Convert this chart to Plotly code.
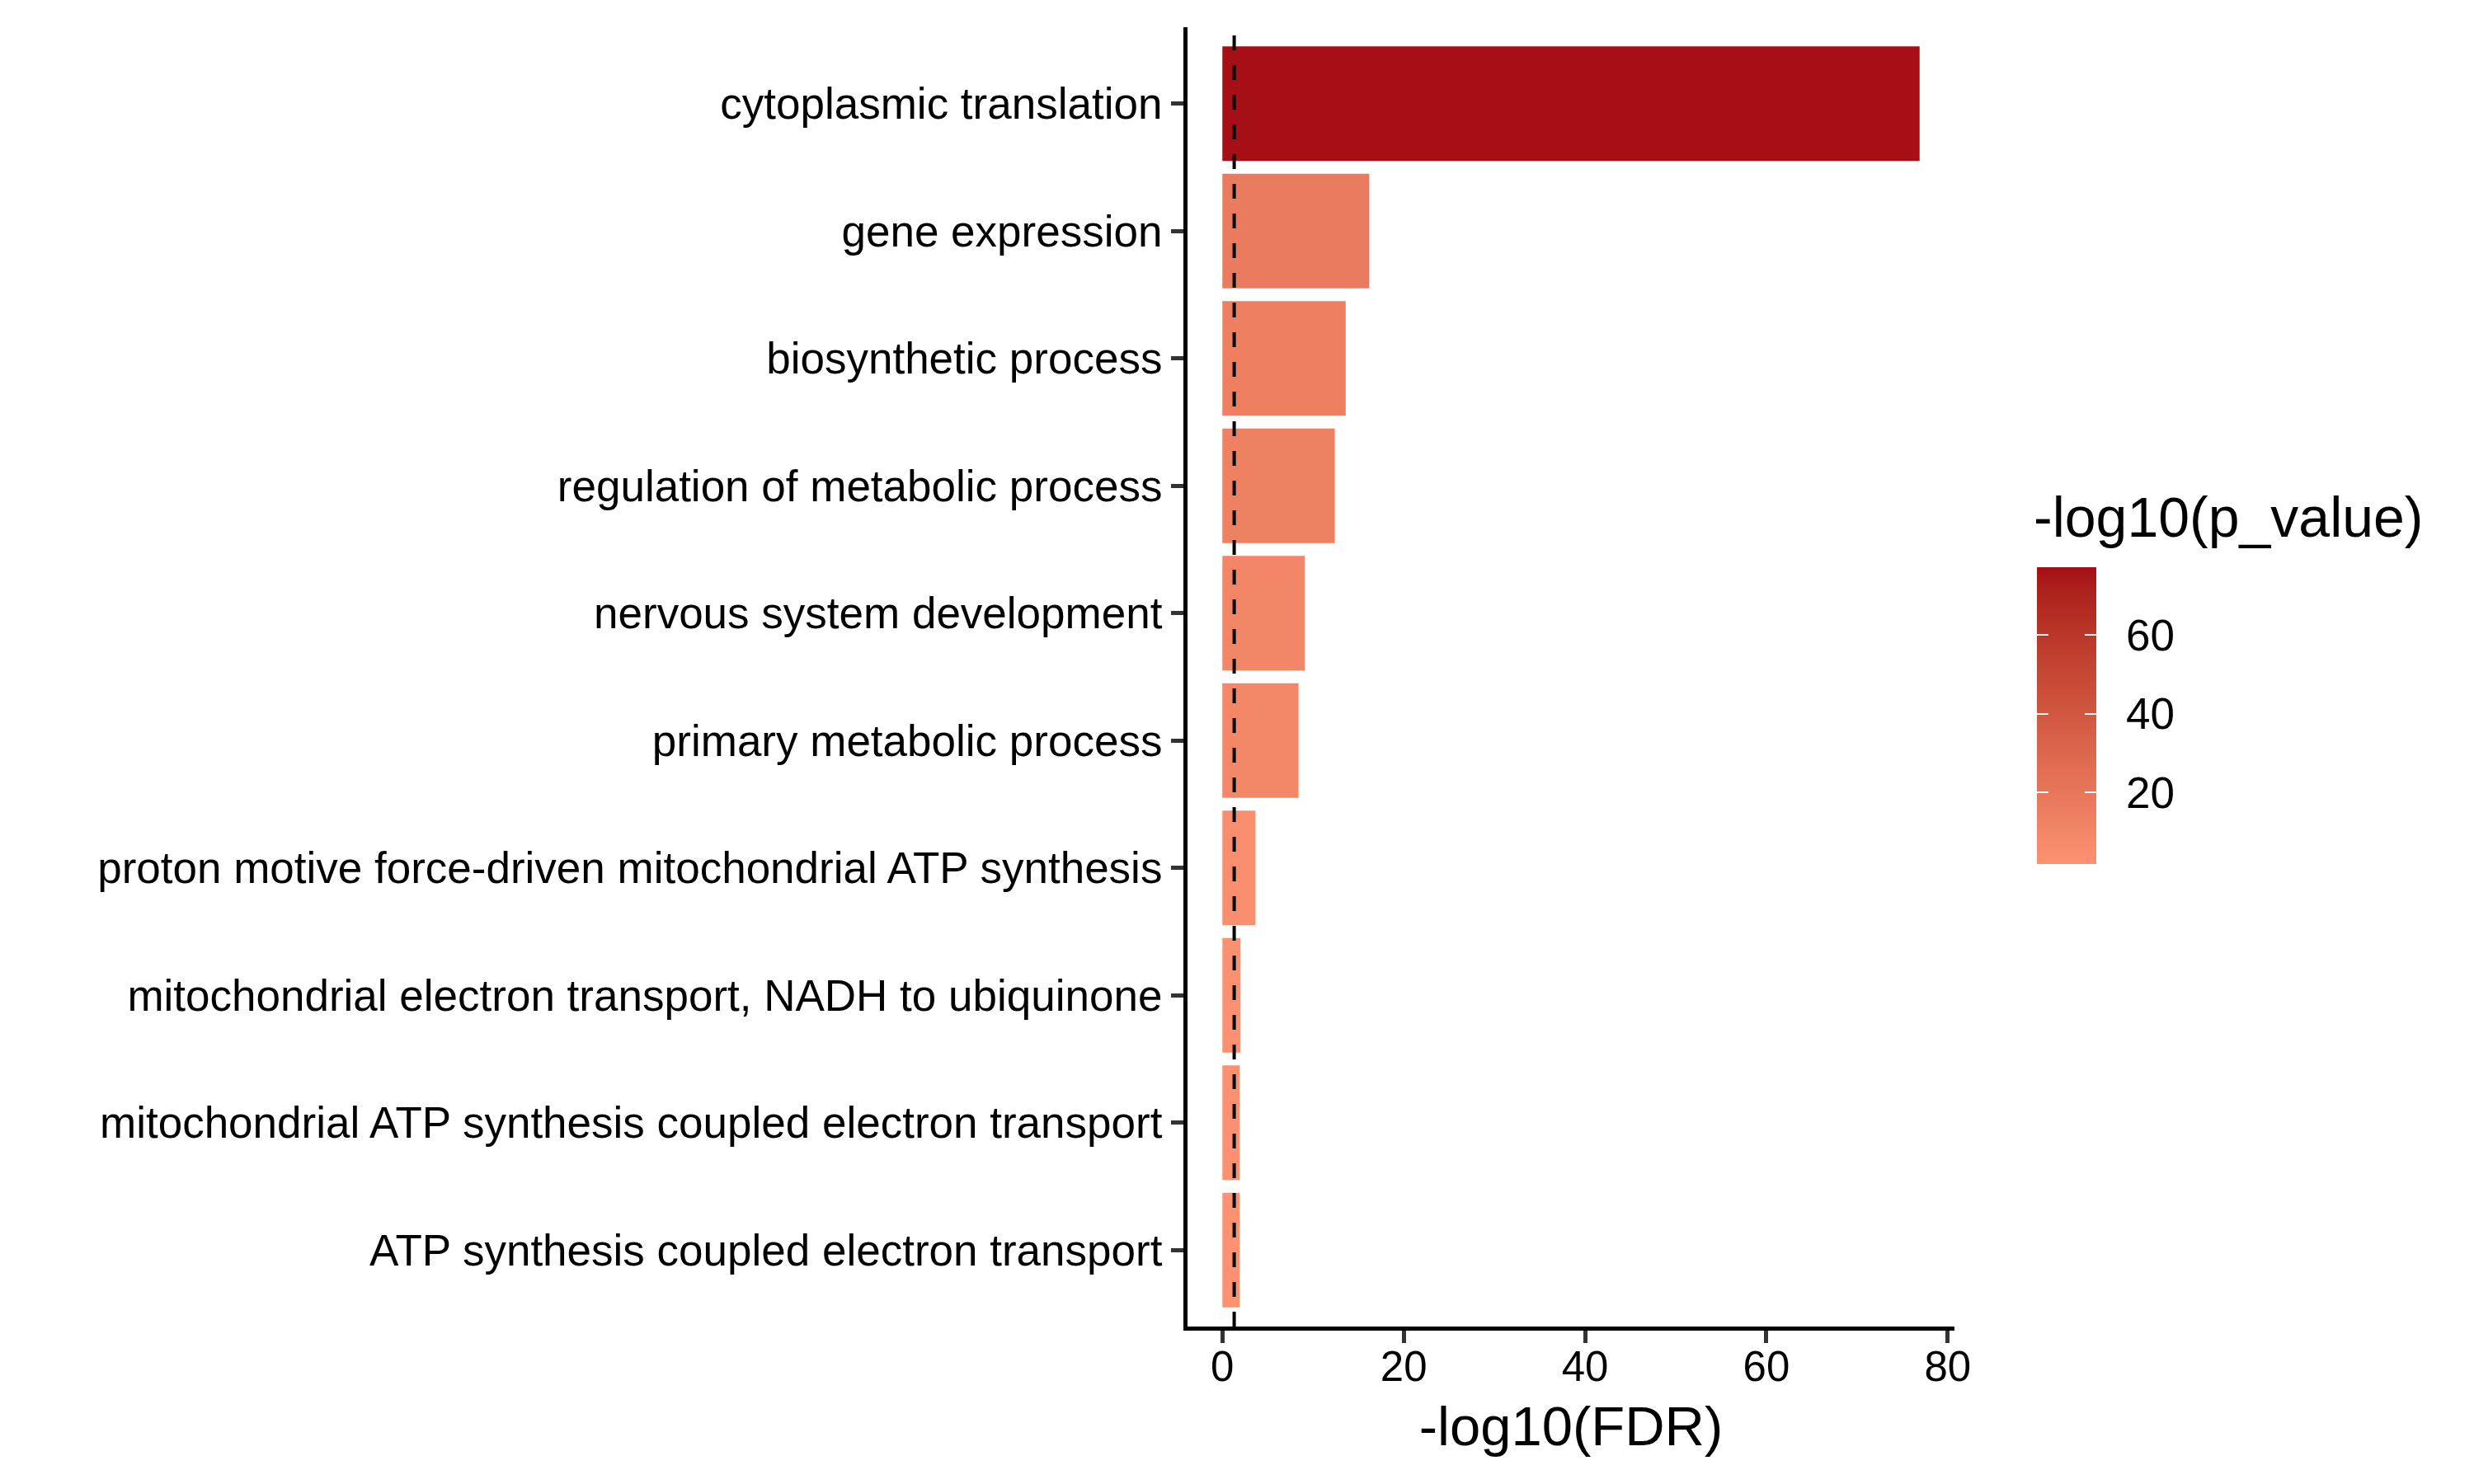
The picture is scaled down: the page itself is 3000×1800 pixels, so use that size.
import math
import plotly.graph_objects as go

# ---------------- data ----------------
terms = [
    "cytoplasmic translation",
    "gene expression",
    "biosynthetic process",
    "regulation of metabolic process",
    "nervous system development",
    "primary metabolic process",
    "proton motive force-driven mitochondrial ATP synthesis",
    "mitochondrial electron transport, NADH to ubiquinone",
    "mitochondrial ATP synthesis coupled electron transport",
    "ATP synthesis coupled electron transport",
]
neg_log10_fdr = [76.9, 16.2, 13.6, 12.4, 9.1, 8.4, 3.65, 2.0, 1.91, 1.91]
neg_log10_p = [77.2, 17.0, 14.4, 13.2, 9.9, 9.2, 4.4, 2.7, 2.5, 1.85]
fdr_threshold = 0.05
x_ticks = [0, 20, 40, 60, 80]
cb_ticks = [20, 40, 60]

LOW = "#FC9272"
HIGH = "#A50F15"
FONT = "Liberation Sans, Arial, sans-serif"


# ---------- Lab-space gradient (like ggplot2 scale_fill_gradient) ----------
def _hex_to_rgb(h):
    h = h.lstrip("#")
    return [int(h[i:i + 2], 16) / 255 for i in (0, 2, 4)]


def _lin(c):
    return c / 12.92 if c <= 0.04045 else ((c + 0.055) / 1.055) ** 2.4


def _delin(c):
    c = max(0.0, min(1.0, c))
    return 12.92 * c if c <= 0.0031308 else 1.055 * c ** (1 / 2.4) - 0.055


def _rgb_to_lab(rgb):
    r, g, b = [_lin(c) for c in rgb]
    X = (0.4124 * r + 0.3576 * g + 0.1805 * b) / 0.95047
    Y = (0.2126 * r + 0.7152 * g + 0.0722 * b)
    Z = (0.0193 * r + 0.1192 * g + 0.9505 * b) / 1.08883

    def f(t):
        return t ** (1 / 3) if t > 0.008856 else 7.787 * t + 16 / 116

    fx, fy, fz = f(X), f(Y), f(Z)
    return [116 * fy - 16, 500 * (fx - fy), 200 * (fy - fz)]


def _lab_to_rgb(lab):
    L, a, b = lab
    fy = (L + 16) / 116
    fx = fy + a / 500
    fz = fy - b / 200

    def finv(t):
        return t ** 3 if t ** 3 > 0.008856 else (t - 16 / 116) / 7.787

    X, Y, Z = finv(fx) * 0.95047, finv(fy), finv(fz) * 1.08883
    r = 3.2406 * X - 1.5372 * Y - 0.4986 * Z
    g = -0.9689 * X + 1.8758 * Y + 0.0415 * Z
    bb = 0.0557 * X - 0.2040 * Y + 1.0570 * Z
    return [round(_delin(c) * 255) for c in (r, g, bb)]


lab_lo, lab_hi = _rgb_to_lab(_hex_to_rgb(LOW)), _rgb_to_lab(_hex_to_rgb(HIGH))
n_stops = 21
colorscale = []
for i in range(n_stops):
    t = i / (n_stops - 1)
    lab = [lab_lo[k] + (lab_hi[k] - lab_lo[k]) * t for k in range(3)]
    r, g, b = _lab_to_rgb(lab)
    colorscale.append([t, f"rgb({r},{g},{b})"])

# ---------------- layout geometry (pixels) ----------------
W, H = 3000, 1800
ml, mr, mt, mb = 1440, 630, 33, 191
plot_w = W - ml - mr
plot_h = H - mt - mb

CB_LEFT, CB_BOTTOM, CB_W, CB_H = 2470, 1048, 72, 360
CB_TICK = 14
cb_x = (CB_LEFT - ml) / plot_w
cb_y = (H - mb - CB_BOTTOM) / plot_h
cmin, cmax = min(neg_log10_p), max(neg_log10_p)


def cbar(**kw):
    base = dict(
        thickness=CB_W, thicknessmode="pixels",
        len=CB_H, lenmode="pixels",
        x=cb_x, xanchor="left", xpad=0,
        y=cb_y, yanchor="bottom", ypad=0,
        outlinewidth=0, tickvals=cb_ticks,
    )
    base.update(kw)
    return base


fig = go.Figure()
# main bars + colorbar carrying the tick labels
fig.add_trace(go.Bar(
    x=neg_log10_fdr,
    y=terms,
    orientation="h",
    width=0.9,
    marker=dict(
        color=neg_log10_p, colorscale=colorscale, cmin=cmin, cmax=cmax,
        line=dict(width=0),
        colorbar=cbar(
            ticks="outside", ticklen=26, tickwidth=1, tickcolor="rgba(0,0,0,0)",
            tickfont=dict(size=53, family=FONT, color="black"),
        ),
    ),
    showlegend=False,
))
# colorbar layer: white tick marks across full width
fig.add_trace(go.Scatter(
    x=neg_log10_fdr, y=terms, mode="markers", hoverinfo="skip",
    marker=dict(
        color=neg_log10_p, colorscale=colorscale, cmin=cmin, cmax=cmax, opacity=0,
        colorbar=cbar(ticks="inside", ticklen=CB_W, tickwidth=2, tickcolor="white",
                      showticklabels=False),
    ),
    showlegend=False,
))
# colorbar layer: covers the middle so ticks remain only at both edges
fig.add_trace(go.Scatter(
    x=neg_log10_fdr, y=terms, mode="markers", hoverinfo="skip",
    marker=dict(
        color=neg_log10_p, colorscale=colorscale, cmin=cmin, cmax=cmax, opacity=0,
        colorbar=cbar(thickness=CB_W - 2 * CB_TICK,
                      x=(CB_LEFT + CB_TICK - ml) / plot_w,
                      ticks="", showticklabels=False),
    ),
    showlegend=False,
))

fig.add_annotation(
    text="-log10(p_value)", xref="paper", yref="paper",
    x=(2464 - ml) / plot_w, y=(H - mb - 627) / plot_h,
    xanchor="left", yanchor="middle", showarrow=False,
    font=dict(size=68, family=FONT, color="black"),
)

fdr_line = -math.log10(fdr_threshold)
fig.add_vline(x=fdr_line, line=dict(color="black", width=4, dash="18px,18px"), layer="above")

fig.update_layout(
    width=W,
    height=H,
    margin=dict(l=ml, r=mr, t=mt, b=mb, autoexpand=False),
    paper_bgcolor="white",
    plot_bgcolor="white",
    font=dict(family=FONT, color="black"),
    bargap=0.1,
    barmode="overlay",
)

xmax = max(neg_log10_fdr)
pad = 0.05 * xmax
fig.update_xaxes(
    range=[-pad, xmax + pad],
    tickvals=x_ticks,
    showgrid=False,
    zeroline=False,
    showline=True,
    linecolor="black",
    linewidth=5,
    ticks="outside",
    ticklen=15,
    tickwidth=5,
    tickcolor="#333333",
    ticklabelstandoff=-15,
    tickfont=dict(size=51, family=FONT, color="black"),
    title=dict(text="-log10(FDR)", font=dict(size=67, family=FONT, color="black"), standoff=22),
    automargin=False,
)
fig.update_yaxes(
    categoryorder="array",
    categoryarray=terms,
    range=[len(terms) - 1 + 0.6, -0.6],
    showgrid=False,
    zeroline=False,
    showline=True,
    linecolor="black",
    linewidth=5,
    ticks="outside",
    ticklen=15,
    tickwidth=5,
    tickcolor="#333333",
    tickfont=dict(size=53, family=FONT, color="black"),
    automargin=False,
)

fig.write_html("out.html", config={"displayModeBar": False},
               post_script="document.body.style.margin='0px';")
